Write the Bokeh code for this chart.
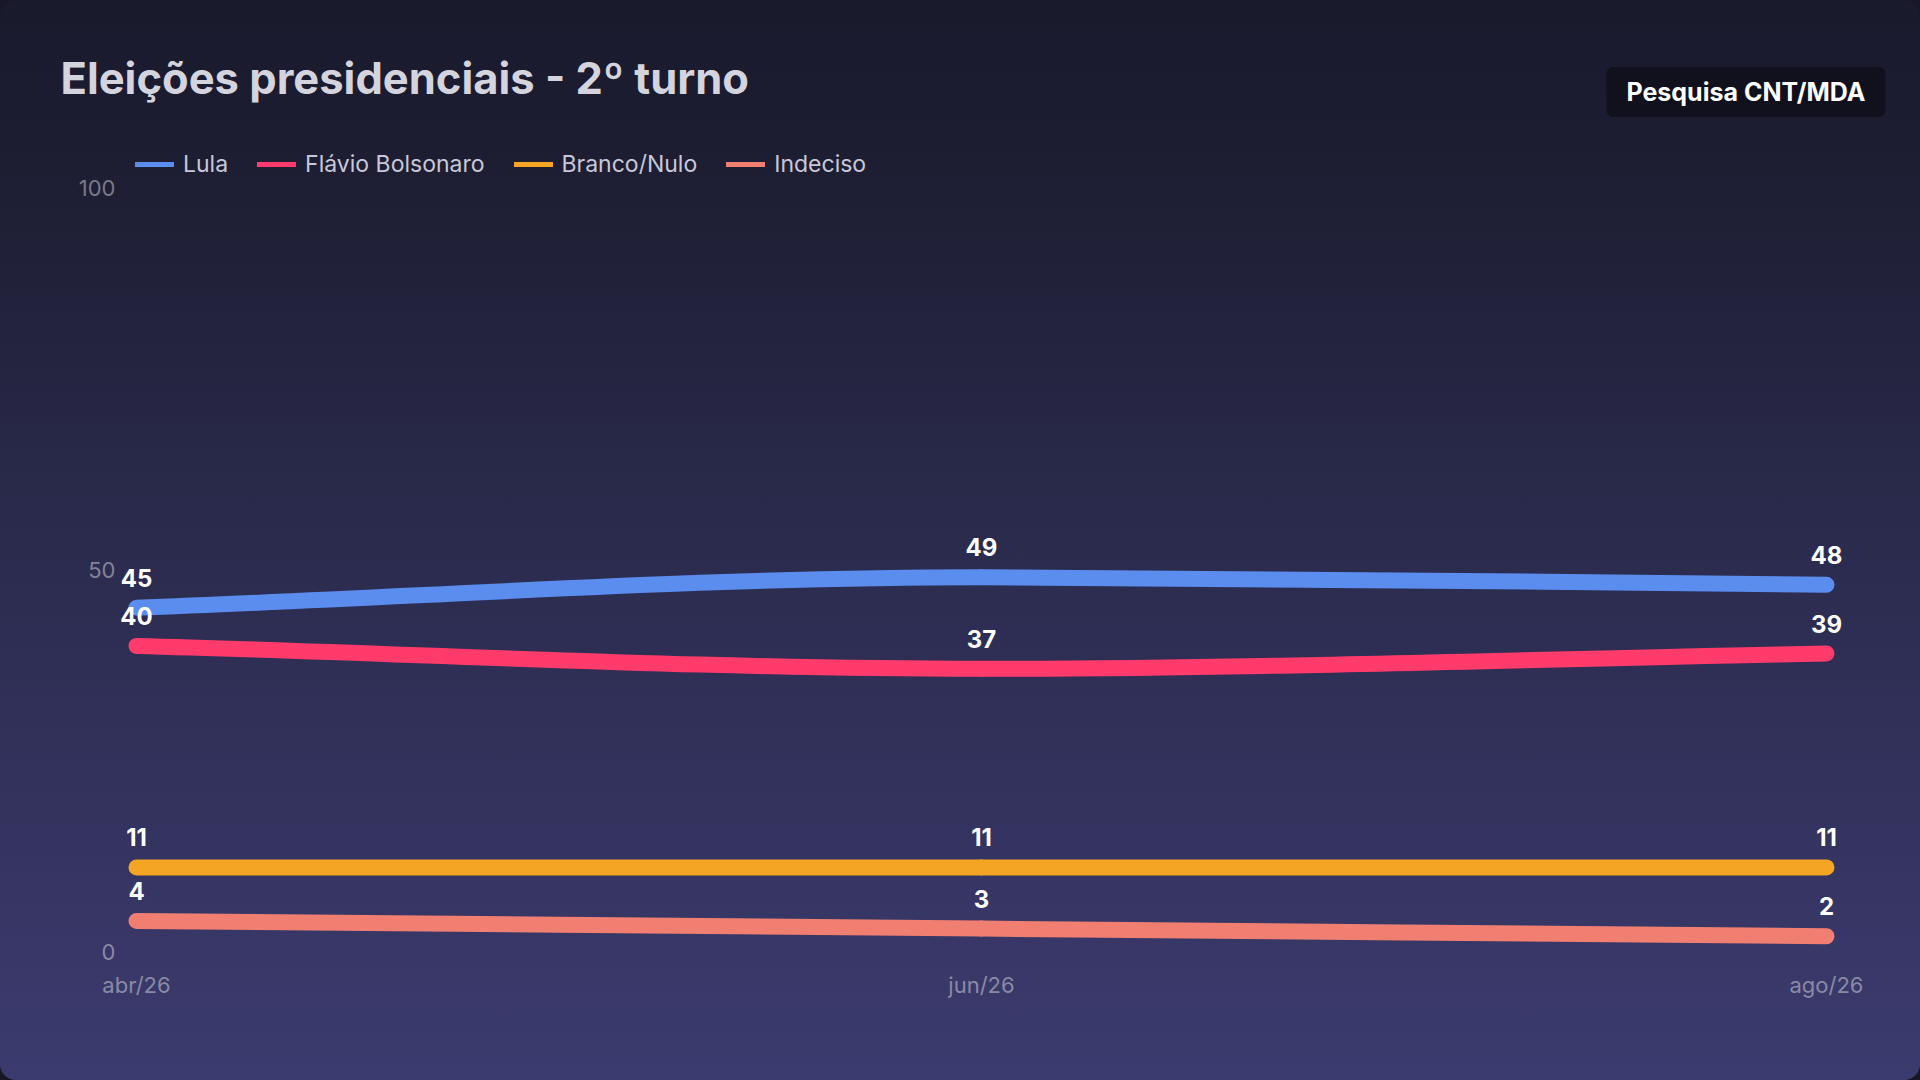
import numpy as np
from bokeh.plotting import figure
from bokeh.models import (ColumnDataSource, Range1d, FixedTicker, Legend, LegendItem,
                          Label, LabelSet)
from bokeh.core.properties import value
from bokeh.embed import file_html
from bokeh.resources import INLINE

# ---------------- data ----------------
months = ["abr/26", "jun/26", "ago/26"]
lula = [45, 49, 48]
flavio = [40, 37, 39]
branco = [11, 11, 11]
indeciso = [4, 3, 2]
series_names = ["Lula", "Flávio Bolsonaro", "Branco/Nulo", "Indeciso"]
series_values = [lula, flavio, branco, indeciso]
series_colors = ["#5b8def", "#ff3b6b", "#f5a524", "#f07f72"]
y_ticks = [0, 50, 100]
title_text = "Eleições presidenciais - 2º turno"
badge_text = "Pesquisa CNT/MDA"

# ---------------- layout (pixels) ----------------
W, H = 1920, 1080
FL, FR, FT, FB = 40, 1920, 0, 951      # plot frame
X0_PX, PX_PER_X = 136.0, 845.0         # where x=0 sits, pixels per category step
Y100_PX = 187.0                        # where y=100 sits
PX_PER_Y = (FB - Y100_PX) / 100.0
x_start = (FL - X0_PX) / PX_PER_X
x_end = x_start + (FR - FL) / PX_PER_X
y_min = 0.0
y_max = (FB - FT) / PX_PER_Y


def X(px):
    return x_start + (px - FL) / PX_PER_X


def Y(py):
    return y_min + (FB - py) / PX_PER_Y


FONT = "Inter"

p = figure(width=W, height=H, output_backend="svg", toolbar_location=None,
           x_range=Range1d(x_start, x_end), y_range=Range1d(y_min, y_max),
           min_border_left=FL, min_border_right=W - FR,
           min_border_top=FT, min_border_bottom=H - FB)
p.background_fill_color = None
p.border_fill_color = None
p.outline_line_color = None
p.grid.visible = False
p.styles = {"background": "linear-gradient(180deg, #1a1a2d 0%, #1e1e34 18%, #2b2b4e 50%, #3c3b6f 100%)",
            "border-radius": "16px"}
try:
    from bokeh.models import GlobalInlineStyleSheet
    p.stylesheets = [GlobalInlineStyleSheet(css="body{background:#171727;}")]
except Exception:
    pass

# axes
xs = list(range(len(months)))
p.xaxis.ticker = FixedTicker(ticks=xs)
p.xaxis.major_label_overrides = {i: m for i, m in zip(xs, months)}
p.yaxis.ticker = FixedTicker(ticks=y_ticks)
for ax in (p.xaxis, p.yaxis):
    ax.axis_line_color = None
    ax.major_tick_line_color = None
    ax.minor_tick_line_color = None
    ax.major_tick_in = 0
    ax.major_tick_out = 0
    ax.minor_tick_in = 0
    ax.minor_tick_out = 0
    ax.major_label_text_font = FONT
    ax.major_label_text_font_size = "22px"
    ax.major_label_text_color = "white"
    ax.major_label_text_alpha = 0.42
p.xaxis.major_label_standoff = 20
p.yaxis.major_label_standoff = -int(115 - FL)


# monotone cubic curves drawn as bezier segments
def monotone_tangents(xv, yv):
    n = len(xv)
    d = [(yv[i + 1] - yv[i]) / (xv[i + 1] - xv[i]) for i in range(n - 1)]
    m = [0.0] * n
    m[0] = d[0]
    m[-1] = d[-1]
    for i in range(1, n - 1):
        m[i] = 0.0 if d[i - 1] * d[i] <= 0 else (d[i - 1] + d[i]) / 2.0
    for i in range(n - 1):
        if d[i] == 0:
            m[i] = 0.0
            m[i + 1] = 0.0
            continue
        a = m[i] / d[i]
        b = m[i + 1] / d[i]
        s = a * a + b * b
        if s > 9:
            t = 3.0 / np.sqrt(s)
            m[i] = t * a * d[i]
            m[i + 1] = t * b * d[i]
    return m


legend_items = []
for name, vals, col in zip(series_names, series_values, series_colors):
    m = monotone_tangents(xs, vals)
    seg = dict(x0=[], y0=[], x1=[], y1=[], cx0=[], cy0=[], cx1=[], cy1=[])
    for i in range(len(xs) - 1):
        dx = xs[i + 1] - xs[i]
        seg["x0"].append(xs[i]); seg["y0"].append(vals[i])
        seg["x1"].append(xs[i + 1]); seg["y1"].append(vals[i + 1])
        seg["cx0"].append(xs[i] + dx / 3.0); seg["cy0"].append(vals[i] + m[i] * dx / 3.0)
        seg["cx1"].append(xs[i + 1] - dx / 3.0); seg["cy1"].append(vals[i + 1] - m[i + 1] * dx / 3.0)
    p.bezier(x0="x0", y0="y0", x1="x1", y1="y1", cx0="cx0", cy0="cy0", cx1="cx1", cy1="cy1",
             source=ColumnDataSource(seg), line_color=col, line_width=16, line_cap="round")
    src = ColumnDataSource(dict(x=xs, y=vals, t=[str(v) for v in vals]))
    p.add_layout(LabelSet(x="x", y="y", text="t", source=src, y_offset=21,
                          text_align="center", text_baseline="alphabetic",
                          text_font=value(FONT), text_font_style="bold",
                          text_font_size="24px", text_color="white"))
    # legend swatch renderer (thin line, a single point so nothing shows in the plot)
    r = p.line(x=[xs[0]], y=[vals[0]], line_color=col, line_width=5, line_cap="round")
    legend_items.append(LegendItem(label=name, renderers=[r]))

legend = Legend(items=legend_items, orientation="horizontal",
                location=(int(135.5 - FL), int(FB - 178)),
                label_text_font=FONT, label_text_font_size="23px", label_text_color="#c8c8d8",
                glyph_width=39, glyph_height=24, label_height=24, label_standoff=9,
                spacing=29, padding=0, margin=0, border_line_color=None,
                background_fill_alpha=0)
p.add_layout(legend)

p.add_layout(Label(x=X(60), y=Y(77), text=title_text, text_font=FONT, text_font_style="bold",
                   text_font_size="43.5px", text_color="#d4d4de",
                   text_align="left", text_baseline="alphabetic"))
p.add_layout(Label(x=X(1745.5), y=Y(91.5), text=badge_text, text_font=FONT, text_font_style="bold",
                   text_font_size="25px", text_color="#ffffff",
                   text_align="center", text_baseline="middle",
                   background_fill_color="#11111d", border_radius=7,
                   padding=dict(left=20, right=20, top=10, bottom=10)))

open("out.html", "w").write(file_html(p, INLINE))
